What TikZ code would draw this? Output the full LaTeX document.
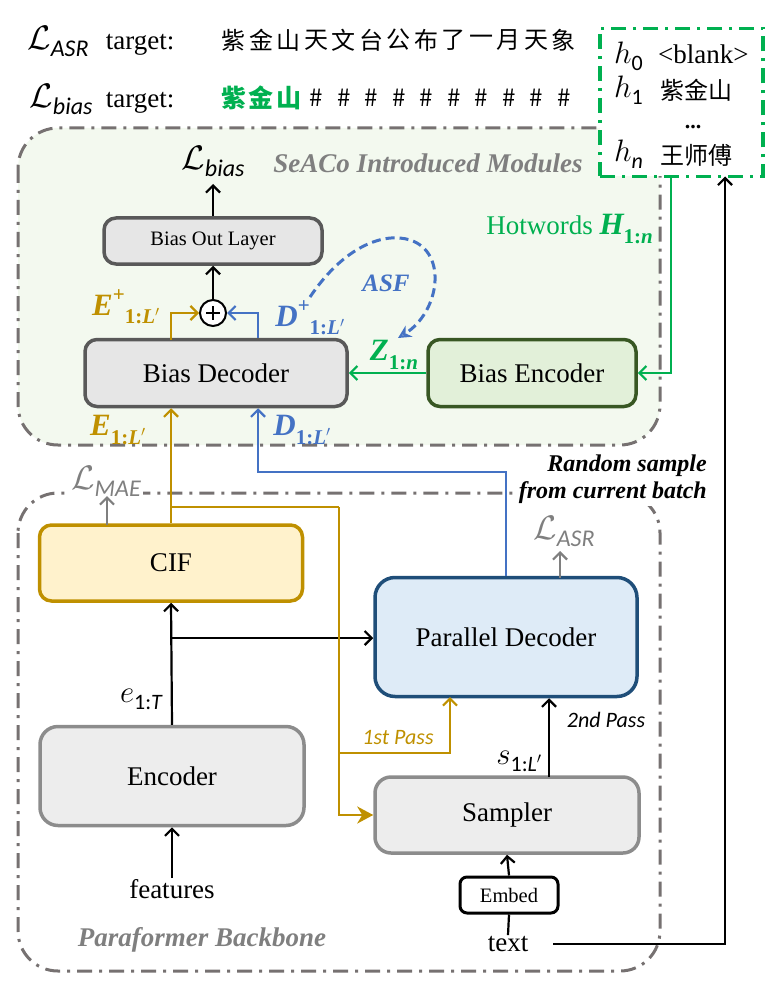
\RequirePackage{fix-cm}
\documentclass[tikz,border=0pt]{standalone}
\usepackage{amsmath}
\usepackage{fontspec}
\setmainfont{Liberation Serif}
\newfontfamily\cjk{Noto Sans CJK SC}
\newfontfamily\subf{Carlito}
\usetikzlibrary{arrows.meta,calc}
\definecolor{gold}{HTML}{BF9000}
\definecolor{cifFill}{HTML}{FFF2CC}
\definecolor{blueL}{HTML}{4472C4}
\definecolor{pdFill}{HTML}{DEEBF7}
\definecolor{pdBord}{HTML}{1F4E79}
\definecolor{grnL}{HTML}{00B050}
\definecolor{beFill}{HTML}{E2F0D9}
\definecolor{beBord}{HTML}{385723}
\definecolor{boxFillD}{HTML}{E6E6E6}
\definecolor{boxFillL}{HTML}{EDEDED}
\definecolor{boxBordD}{HTML}{595959}
\definecolor{boxBordL}{HTML}{8C8C8C}
\definecolor{regFill}{HTML}{F3F9EF}
\definecolor{regBord}{HTML}{767171}
\definecolor{gtxt}{HTML}{7F7F7F}
% bold italic label: base, superscript, upright subscript part, italic subscript part
\newcommand\blab[4]{{\fontsize{31}{34}\selectfont\bfseries\itshape #1}{\fontsize{21}{22}\selectfont\bfseries\raisebox{0.65em}{#2}\raisebox{-0.4em}{#3\itshape #4}}}
% script L with subscript
\newcommand\Lsub[1]{{\fontsize{34}{36}\selectfont$\mathcal{L}$}\raisebox{-7pt}{\subf\itshape\fontsize{24}{26}\selectfont #1}}
% math italic letter with subscript
\newcommand\msub[2]{{\fontsize{31}{34}\selectfont$#1$}\raisebox{-7pt}{\subf\fontsize{22}{24}\selectfont #2}}
\tikzset{
  fbig/.style={font=\fontsize{27}{32}\selectfont},
  box/.style={draw, rounded corners=12pt, line width=3.5pt, align=center, fbig, inner sep=0pt},
  region/.style={draw=regBord, line width=3pt, dash pattern=on 15pt off 7pt on 3pt off 7pt, rounded corners=40pt},
  conn/.style={line width=2.2pt},
  arr/.style={conn, -{Straight Barb[length=7pt,width=14pt]}},
  cjkch/.style={font=\cjk\fontsize{24}{28}\selectfont, inner sep=0pt},
  lbl/.style={fbig, inner sep=1pt},
}
\begin{document}
\begin{tikzpicture}[x=1pt,y=-1pt]
\useasboundingbox (0,0) rectangle (776,984);

% ---------- regions ----------
\draw[region, fill=regFill] (18,128) rectangle (660,445);
\node[draw=grnL, line width=3.5pt, dash pattern=on 15pt off 7pt on 3pt off 7pt, fill=white,
      minimum width=163pt, minimum height=148pt, inner sep=0pt] (hw) at (681.5,102.5) {};
\draw[region] (18,493) rectangle (660,971);

% ---------- top rows ----------
\node[lbl, anchor=base] (lasrT) at (58,50) {\Lsub{ASR}};
\node[lbl, anchor=base] (tg1) at (140,50) {target:};
\node[lbl, anchor=base] (lbiasT) at (61,108) {\Lsub{bias}};
\node[lbl, anchor=base] (tg2) at (140,108) {target:};
\foreach \c [count=\i] in {紫,金,山,天,文,台,公,布,了,一,月,天,象}
  \node[cjkch] (ra\i) at ({233.75+27.5*(\i-1)},40) {\c};
\foreach \c [count=\i] in {紫,金,山}
  \node[cjkch, text=grnL, font=\cjk\bfseries\fontsize{25}{28}\selectfont] (rb\i) at ({233.75+27.5*(\i-1)},98) {\c};
\foreach \i in {4,...,13}
  \node[cjkch] (rb\i) at ({233.75+27.5*(\i-1)},98) {\#};

% ---------- hotword list ----------
\node[lbl, anchor=base west] (h0) at (613,64) {\msub{h}{0}};
\node[lbl, anchor=base west] (hb0) at (657,64) {<blank>};
\node[lbl, anchor=base west] (h1) at (613,98) {\msub{h}{1}};
\node[cjkch, anchor=west] (hb1) at (660,90) {紫金山};
\node[lbl, anchor=base, font=\bfseries\fontsize{22}{26}\selectfont] (hdots) at (693,129) {...};
\node[lbl, anchor=base west] (hn) at (613,162) {\msub{h}{\itshape n}};
\node[cjkch, anchor=west] (hbn) at (660,155) {王师傅};

% ---------- SeACo modules ----------
\node[lbl, text=gtxt, font=\bfseries\itshape\fontsize{27}{32}\selectfont] (seaco) at (428,163) {SeACo Introduced Modules};
\node[lbl, anchor=base] (lbias) at (213,170) {\Lsub{bias}};
\node[box, draw=boxBordD, fill=boxFillD, minimum width=218pt, minimum height=46pt, font=\fontsize{20.5}{24}\selectfont] (bol) at (213,241) {Bias Out Layer};
\node[draw, circle, line width=2pt, minimum size=26pt, inner sep=0pt, fill=white] (plus) at (213,313) {};
\draw[line width=1.8pt] ($(plus.center)+(-7,0)$) -- ($(plus.center)+(7,0)$)
                        ($(plus.center)+(0,-7)$) -- ($(plus.center)+(0,7)$);
\node[box, draw=boxBordD, fill=boxFillD, minimum width=262pt, minimum height=67pt] (bdec) at (216,373) {Bias Decoder};
\node[box, draw=beBord, fill=beFill, minimum width=208pt, minimum height=67pt] (benc) at (532,373) {Bias Encoder};

\node[lbl, anchor=east, text=grnL] (hwl) at (654,229) {Hotwords \blab{H}{}{1:}{n}};
\node[lbl, text=grnL] (zl) at (394,355) {\blab{Z}{}{1:}{n}};
\node[lbl, text=blueL, font=\bfseries\itshape\fontsize{25}{30}\selectfont] (asf) at (386,283) {ASF};
\node[lbl, text=gold] (epl) at (126,307) {\blab{E}{+}{1:}{L$'$}};
\node[lbl, text=blueL] (dpl) at (310,318) {\blab{D}{+}{1:}{L$'$}};
\node[lbl, text=gold] (el) at (118,430) {\blab{E}{}{1:}{L$'$}};
\node[lbl, text=blueL] (dl) at (302,430) {\blab{D}{}{1:}{L$'$}};

\coordinate (dx) at (258,472);
\coordinate (gx) at (339,507);
\coordinate (gy) at (339,753);
\coordinate (p1) at (450,697);
\coordinate (bj) at (171,638);
\coordinate (gk) at (671,176.5);
\coordinate (hk) at (725,176.5);
\coordinate (s2) at (549,777);
\coordinate (ma) at (107,525);
\coordinate (aa) at (560,578);
\coordinate (lb0) at (213,184);
\coordinate (mae0) at (107,496);
\coordinate (asr0) at (560,551);
\coordinate (asf0) at (310,297);
\coordinate (asf1) at (398,338);

\draw[arr] (bol.north) -- (lb0);
\draw[arr] (plus.north) -- (bol.south);
\draw[arr, draw=gold] (171,340) |- (plus.west);
\draw[arr, draw=blueL] (dx |- bdec.north) |- (plus.east);
\draw[arr, draw=grnL] (benc.west) -- (bdec.east);
\draw[arr, draw=grnL] (gk) |- (benc.east);
\draw[line width=3pt, draw=blueL, dash pattern=on 9pt off 5pt, -{Stealth[length=13pt,width=13pt,open]}]
  (asf0) .. controls (345,245) and (385,232) .. (410,240) .. controls (448,252) and (440,312) .. (asf1);

% ---------- Paraformer backbone ----------
\node[box, draw=gold, fill=cifFill, minimum width=263pt, minimum height=76pt] (cif) at (171,563) {CIF};
\node[box, draw=pdBord, fill=pdFill, minimum width=262pt, minimum height=119pt, rounded corners=20pt] (pd) at (506,637) {Parallel Decoder};
\node[box, draw=boxBordL, fill=boxFillL, minimum width=264pt, minimum height=99pt, rounded corners=18pt] (enc) at (172,776) {Encoder};
\node[box, draw=boxBordL, fill=boxFillL, minimum width=264pt, minimum height=76pt, rounded corners=16pt] (samp) at (507,815) {Sampler};
\node[box, draw=black, fill=white, line width=3pt, rounded corners=7pt, minimum width=98pt, minimum height=36pt, font=\fontsize{20.5}{24}\selectfont] (emb) at (509,895) {Embed};

\node[lbl, anchor=base, text=gtxt, fill=white, inner sep=2pt] (lmae) at (106,489) {\Lsub{MAE}};
\node[lbl, anchor=base, text=gtxt] (lasr) at (564,539) {\Lsub{ASR}};
\node[lbl, anchor=base] (e1t) at (141,702) {\msub{e}{1:\itshape T}};
\node[lbl, text=gold, font=\subf\itshape\fontsize{22}{25}\selectfont] (p1st) at (398,737) {1st Pass};
\node[lbl, font=\subf\itshape\fontsize{22}{25}\selectfont] (p2nd) at (606,720) {2nd Pass};
\node[lbl, anchor=base] (s1l) at (519,764) {\msub{s}{1:\itshape L$'$}};
\node[lbl] (feat) at (172,889) {features};
\node[lbl] (txt) at (508,944) {text};
\node[lbl, text=gtxt, font=\bfseries\itshape\fontsize{27}{32}\selectfont] (pbb) at (202,940) {Paraformer Backbone};
\node[fill=white, align=right, anchor=east, inner sep=3pt, font=\bfseries\itshape\fontsize{24}{27}\selectfont] (rs) at (710,479) {Random sample\\from current batch};

% connectors backbone
\draw[arr] (feat.north) -- (enc.south);
\draw[arr] (enc.north) -- (cif.south);
\draw[arr] (bj) -- (bj -| pd.west);
\draw[arr, draw=gtxt] (ma) -- (mae0);
\draw[arr, draw=gtxt] (aa) -- (asr0);
\draw[arr, draw=gold] (cif.north) -- (cif.north |- bdec.south);
\draw[conn, draw=gold] (cif.north |- gx) -- (gx);
\draw[conn, draw=gold, -{Stealth[length=16pt,width=17pt,inset=5pt]}] (gx) |- (samp.west);
\draw[arr, draw=gold] (gy) -| (p1);
\draw[arr, draw=blueL] (pd.north -| 506,0) |- (dx) -- (dx |- bdec.south);
\draw[arr] (s2) -- (s2 |- pd.south);
\draw[arr] (emb.north) -- (samp.south);
\draw[conn] (txt.north) -- (emb.south);
\draw[arr] ([xshift=24pt]txt.east) -| (hk);
\end{tikzpicture}
\end{document}
